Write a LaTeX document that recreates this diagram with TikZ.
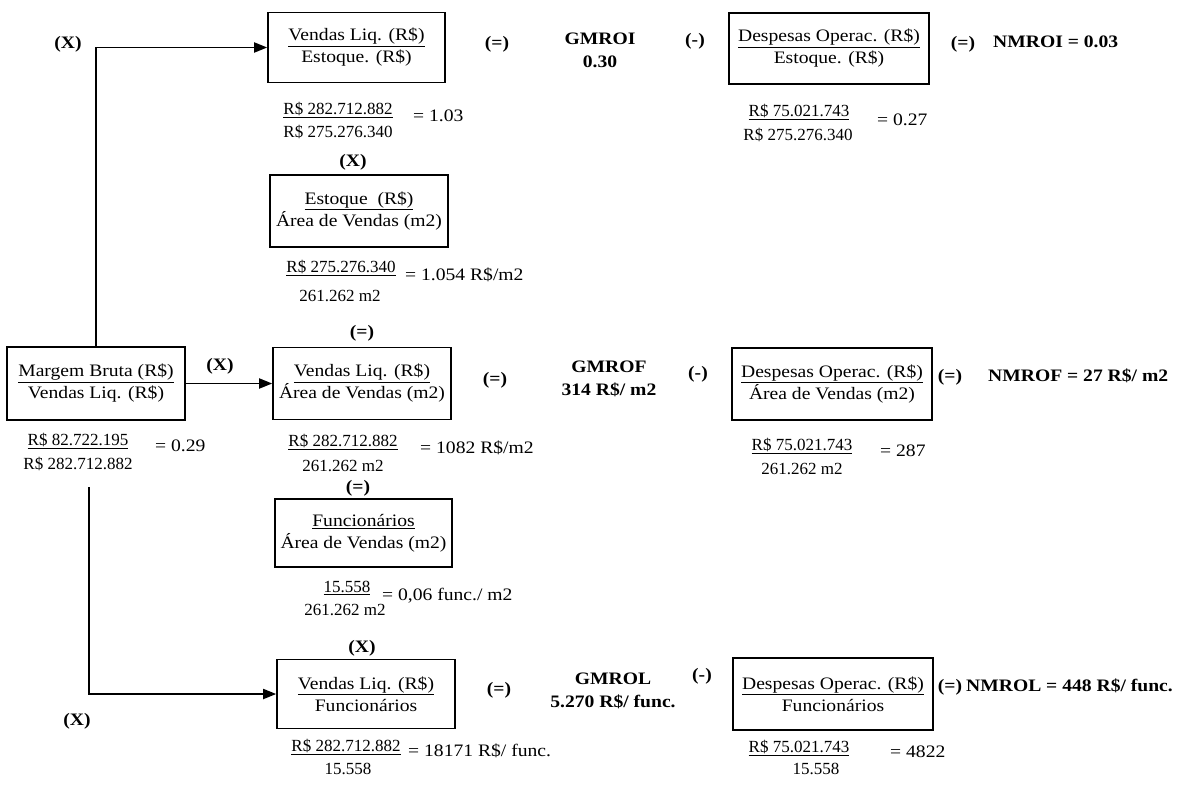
\documentclass[tikz,border=0pt]{standalone}
\usepackage{fontspec}
\usetikzlibrary{arrows.meta}
\setmainfont{Liberation Serif}[FakeStretch=1.12]
\newfontfamily\plainserif{Liberation Serif}
\newcommand{\boxfont}{\fontsize{17.5}{22}\selectfont}
\newcommand{\opfont}{\fontsize{17.5}{23}\selectfont\bfseries}
\newcommand{\fracfont}{\plainserif\fontsize{17}{21}\selectfont}
\newcommand{\resfont}{\fontsize{17.5}{21}\selectfont}
\tikzset{
  ratiobox/.style={draw, line width=1.6pt, align=center, inner sep=0pt, font=\boxfont},
  oplabel/.style={inner sep=0pt, font=\opfont, align=center},
  numtext/.style={inner sep=0pt, font=\fracfont},
  restext/.style={inner sep=0pt, font=\resfont, anchor=west},
  conn/.style={line width=1.8pt, -{Triangle[length=13pt,width=10pt]}}
}
\begin{document}
\begin{tikzpicture}[x=1pt,y=-1pt]
\useasboundingbox (0,0) rectangle (1200,785);

% ---------- first row: stock ----------
\node[oplabel] (xTop) at (68,44) {(X)};
\node[ratiobox, minimum width=177pt, minimum height=70pt] (bA) at (356.5,47.5)
  {\underline{Vendas Liq. (R\$)}\\Estoque. (R\$)};
\node[oplabel] (eqA) at (497,44) {(=)};
\node[oplabel] (gmroi) at (600,50) {GMROI\\0.30};
\node[oplabel] (miA) at (695,41) {(-)};
\node[ratiobox, minimum width=200pt, minimum height=71pt] (bB) at (829,48.5)
  {\underline{Despesas Operac. (R\$)}\\Estoque. (R\$)};
\node[oplabel] (eqB) at (963,44) {(=)};
\node[oplabel, anchor=west] (nmroi) at (993,42) {NMROI = 0.03};

\node[numtext] (nA) at (338,110) {\underline{R\$ 282.712.882}};
\node[numtext] (dA) at (338,132) {R\$ 275.276.340};
\node[restext] (rA) at (413,116) {= 1.03};

\node[numtext] (nB) at (799,112) {\underline{R\$ 75.021.743}};
\node[numtext] (dB) at (798,135) {R\$ 275.276.340};
\node[restext] (rB) at (877,120) {= 0.27};

\node[oplabel] (xC) at (353,162) {(X)};
\node[ratiobox, minimum width=178pt, minimum height=72pt] (bC) at (359,211)
  {\underline{Estoque\ \ (R\$)}\\Área de Vendas (m2)};
\node[numtext] (nC) at (341,268) {\underline{R\$ 275.276.340}};
\node[restext] (rC) at (405,275) {= 1.054 R\$/m2};
\node[numtext] (dC) at (340,296) {261.262 m2};
\node[oplabel] (eqC) at (362,333) {(=)};

% ---------- second row: sales area ----------
\node[ratiobox, minimum width=178pt, minimum height=73pt] (bM) at (96,383.5)
  {\underline{Margem Bruta (R\$)}\\Vendas Liq. (R\$)};
\node[oplabel] (xMid) at (220,366) {(X)};
\node[ratiobox, minimum width=178pt, minimum height=72pt] (bD) at (362,383.5)
  {\underline{Vendas Liq. (R\$)}\\Área de Vendas (m2)};
\node[oplabel] (eqD) at (495,380) {(=)};
\node[oplabel] (gmrof) at (609,379) {GMROF\\314 R\$/ m2};
\node[oplabel] (miD) at (698,374) {(-)};
\node[ratiobox, minimum width=200pt, minimum height=72pt] (bE) at (832,384)
  {\underline{Despesas Operac. (R\$)}\\Área de Vendas (m2)};
\node[oplabel] (eqE) at (950,377) {(=)};
\node[oplabel, anchor=west] (nmrof) at (988,376) {NMROF = 27 R\$/ m2};

\node[numtext] (nM) at (78,441) {\underline{R\$ 82.722.195}};
\node[numtext] (dM) at (78,464) {R\$ 282.712.882};
\node[restext] (rM) at (155,446) {= 0.29};

\node[numtext] (nD) at (343,442) {\underline{R\$ 282.712.882}};
\node[numtext] (dD) at (343,466) {261.262 m2};
\node[restext] (rD) at (420,448) {= 1082 R\$/m2};

\node[numtext] (nE) at (802,446) {\underline{R\$ 75.021.743}};
\node[numtext] (dE) at (802,469) {261.262 m2};
\node[restext] (rE) at (880,451) {= 287};

\node[oplabel] (eqF) at (358,488) {(=)};
\node[ratiobox, minimum width=177pt, minimum height=68pt] (bF) at (363.5,533)
  {\underline{Funcionários}\\Área de Vendas (m2)};
\node[numtext] (nF) at (347,588) {\underline{15.558}};
\node[restext] (rF) at (382,596) {= 0,06 func./ m2};
\node[numtext] (dF) at (345,610) {261.262 m2};
\node[oplabel] (xF) at (362,648) {(X)};

% ---------- third row: employees ----------
\node[ratiobox, minimum width=178pt, minimum height=69pt] (bG) at (366,694)
  {\underline{Vendas Liq. (R\$)}\\Funcionários};
\node[oplabel] (eqG) at (499,690) {(=)};
\node[oplabel] (gmrol) at (613,691) {GMROL\\5.270 R\$/ func.};
\node[oplabel] (miG) at (702,676) {(-)};
\node[ratiobox, minimum width=200pt, minimum height=72pt] (bH) at (833,694)
  {\underline{Despesas Operac. (R\$)}\\Funcionários};
\node[oplabel] (eqH) at (950,687) {(=)};
\node[oplabel, anchor=west] (nmrol) at (966,686) {NMROL = 448 R\$/ func.};

\node[numtext] (nG) at (346,747) {\underline{R\$ 282.712.882}};
\node[restext] (rG) at (408,751) {= 18171 R\$/ func.};
\node[numtext] (dG) at (348,769) {15.558};

\node[numtext] (nH) at (799,748) {\underline{R\$ 75.021.743}};
\node[restext] (rH) at (890,752) {= 4822};
\node[numtext] (dH) at (816,769) {15.558};

\node[oplabel] (xBot) at (77,721) {(X)};

% ---------- connectors ----------
\coordinate (dnStart) at (89,487);
\draw[conn] (bM.north) |- (bA.west);
\draw[conn] (bM.east) -- (bD.west);
\draw[conn] (dnStart) |- (bG.west);
\end{tikzpicture}
\end{document}
